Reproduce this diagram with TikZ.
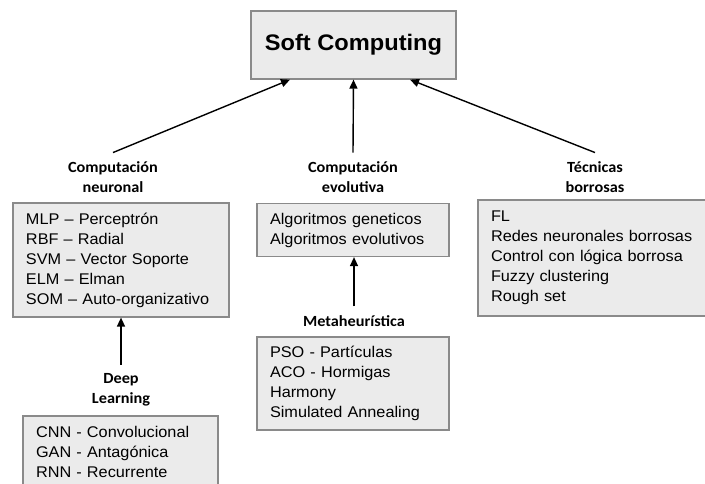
\documentclass[tikz,border=0pt]{standalone}
\usepackage{fontspec}
\setmainfont{Liberation Sans}
\newfontfamily\listfont[FakeStretch=1.05]{Liberation Sans}
\newfontfamily\headfont[FakeStretch=1.05]{Liberation Sans}
\newfontfamily\labfont[FakeStretch=1.05]{Carlito}
\usetikzlibrary{arrows.meta}
\definecolor{boxfill}{RGB}{235,235,235}
\definecolor{boxline}{RGB}{138,138,138}
\begin{document}
\begin{tikzpicture}[x=1pt,y=-1pt,
  listbox/.style={draw=boxline, fill=boxfill, line width=1.2pt,
    align=left, inner xsep=13pt, inner ysep=0pt,
    font=\listfont\fontsize{15.5}{20}\selectfont},
  titlebox/.style={draw=boxline, fill=boxfill, line width=1.2pt,
    minimum width=205pt, minimum height=68pt,
    font=\headfont\bfseries\fontsize{22.5}{26}\selectfont},
  grouplabel/.style={align=center, inner sep=0pt,
    font=\labfont\bfseries\fontsize{15.5}{19.5}\selectfont},
  link/.style={line width=1.4pt, -{Triangle[length=9pt,width=8pt]}}
]
\useasboundingbox (0,0) rectangle (705,483);

% root
\node[titlebox] (root) at (353.5,45) {Soft Computing};

% group labels
\node[grouplabel] (neurlab) at (113,177) {Computación\\neuronal};
\node[grouplabel] (evollab) at (353,177) {Computación\\evolutiva};
\node[grouplabel] (fuzzlab) at (595,177) {Técnicas\\borrosas};
\node[grouplabel] (metalab) at (354,321) {Metaheurística};
\node[grouplabel] (deeplab) at (121,390) {Deep\\Learning};

% content boxes
\node[listbox, minimum width=216pt, minimum height=114pt, text width=190pt]
  (neur) at (121,260)
  {MLP – Perceptrón\\RBF – Radial\\SVM – Vector Soporte\\ELM – Elman\\SOM – Auto-organizativo};
\node[listbox, minimum width=192pt, minimum height=53pt, text width=166pt]
  (evol) at (353,230)
  {Algoritmos geneticos\\Algoritmos evolutivos};
\node[listbox, minimum width=232pt, minimum height=116pt, text width=206pt]
  (fuzz) at (594,258)
  {FL\\Redes neuronales borrosas\\Control con lógica borrosa\\Fuzzy clustering\\Rough set};
\node[listbox, minimum width=192pt, minimum height=93pt, text width=166pt]
  (meta) at (353,383.5)
  {PSO - Partículas\\ACO - Hormigas\\Harmony\\Simulated Annealing};
\node[listbox, minimum width=195pt, minimum height=72pt, text width=169pt]
  (deep) at (120.5,452)
  {CNN - Convolucional\\GAN - Antagónica\\RNN - Recurrente};

% connectors
\draw[link] ([yshift=9pt]neurlab.north) -- ([xshift=-63.5pt]root.south);
\draw[link] ([yshift=9pt]evollab.north) -- (root.south);
\draw[link] ([yshift=9pt]fuzzlab.north) -- ([xshift=56.5pt]root.south);
\draw[link] ([yshift=9pt]metalab.north) -- (evol.south -| metalab.north);
\draw[link] ([yshift=9pt]deeplab.north) -- (neur.south);
\end{tikzpicture}
\end{document}
